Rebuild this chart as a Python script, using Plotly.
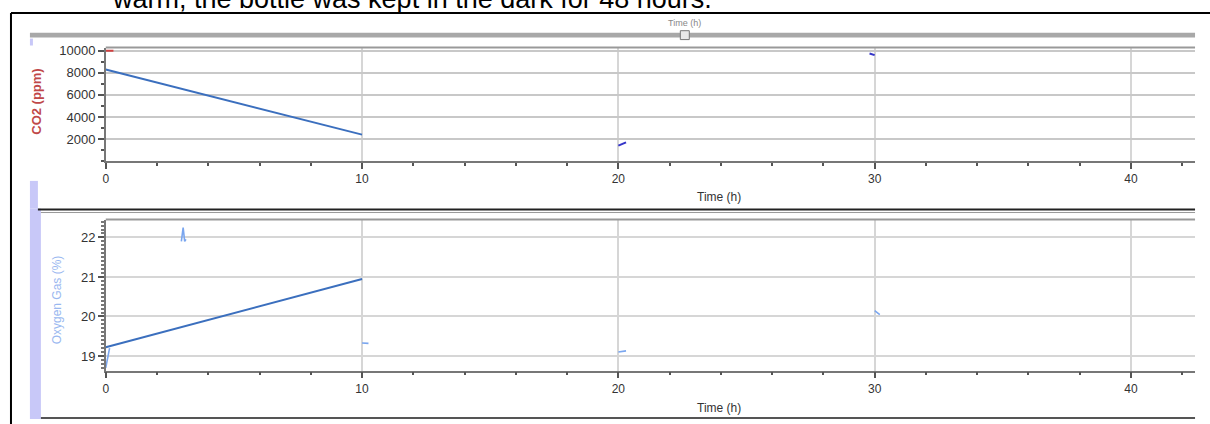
import plotly.graph_objects as go

W, H = 1210, 424

# ---------------- data ----------------
co2_time = [0, 10]
co2_ppm = [8300, 2400]
co2_frag1_time = [20.0, 20.3]
co2_frag1_ppm = [1400, 1700]
co2_frag2_time = [29.8, 30.0]
co2_frag2_ppm = [9750, 9600]
co2_red_time = [0, 0.3]
co2_red_ppm = [10000, 10000]

o2_time = [0, 10]
o2_pct = [19.22, 20.95]
o2_frag0_time = [0.0, 0.15]
o2_frag0_pct = [18.7, 19.2]
o2_frag1_time = [2.95, 3.02, 3.08, 3.13]
o2_frag1_pct = [21.9, 22.25, 21.9, 21.95]
o2_frag2_time = [10.0, 10.25]
o2_frag2_pct = [19.33, 19.32]
o2_frag3_time = [20.0, 20.3]
o2_frag3_pct = [19.1, 19.13]
o2_frag4_time = [30.0, 30.2]
o2_frag4_pct = [20.15, 20.05]

x_ticks = [0, 10, 20, 30, 40]
co2_ticks = [2000, 4000, 6000, 8000, 10000]
o2_ticks = [19, 20, 21, 22]

# ---------------- helpers (pixel -> paper) ----------------
def px(x):
    return x / W

def py(y):
    return 1 - y / H

FONT = "Liberation Sans, Arial, sans-serif"
MAIN = "#3b6fbe"

fig = go.Figure()

fig.add_trace(go.Scatter(x=co2_time, y=co2_ppm, mode="lines",
                         line=dict(color=MAIN, width=2), xaxis="x", yaxis="y"))
fig.add_trace(go.Scatter(x=co2_frag1_time, y=co2_frag1_ppm, mode="lines",
                         line=dict(color="#3535c8", width=2), xaxis="x", yaxis="y"))
fig.add_trace(go.Scatter(x=co2_frag2_time, y=co2_frag2_ppm, mode="lines",
                         line=dict(color="#3535c8", width=2), xaxis="x", yaxis="y"))
fig.add_trace(go.Scatter(x=co2_red_time, y=co2_red_ppm, mode="lines",
                         line=dict(color="#d04040", width=2), xaxis="x", yaxis="y"))

fig.add_trace(go.Scatter(x=o2_time, y=o2_pct, mode="lines",
                         line=dict(color=MAIN, width=2), xaxis="x2", yaxis="y2"))
for tx, ty in [(o2_frag0_time, o2_frag0_pct), (o2_frag1_time, o2_frag1_pct),
               (o2_frag2_time, o2_frag2_pct), (o2_frag3_time, o2_frag3_pct),
               (o2_frag4_time, o2_frag4_pct)]:
    fig.add_trace(go.Scatter(x=tx, y=ty, mode="lines",
                             line=dict(color="#7aa6ef", width=1.6),
                             xaxis="x2", yaxis="y2"))

xdom = [px(103), px(1195)]

common_x = dict(
    range=[0, 42.5], tickvals=x_ticks, ticks="outside", ticklen=6,
    tickwidth=1.5, tickcolor="#555", showline=True, linecolor="#777",
    linewidth=1.5, showgrid=True, gridcolor="#d6d6d6", gridwidth=1.5,
    zeroline=False, tickfont=dict(family=FONT, size=12, color="#333"),
    minor=dict(dtick=2, ticks="outside", ticklen=3, tickcolor="#555",
               showgrid=False),
    fixedrange=True,
)

fig.update_layout(
    width=W, height=H,
    margin=dict(l=0, r=0, t=0, b=0),
    paper_bgcolor="white", plot_bgcolor="white",
    showlegend=False,
    xaxis=dict(domain=xdom, anchor="y", **common_x),
    yaxis=dict(domain=[py(158), py(44)], range=[0, 10200], anchor="x",
               tickvals=co2_ticks, tickformat="d", ticks="outside", ticklen=6,
               tickwidth=1.5, tickcolor="#555", showline=True,
               linecolor="#777", linewidth=1.5,
               showgrid=True, gridcolor="#c8c8c8", gridwidth=1.5,
               zeroline=False, fixedrange=True,
               tickfont=dict(family=FONT, size=13, color="#333"),
               minor=dict(dtick=1000, ticks="outside", ticklen=3,
                          tickcolor="#555", showgrid=False)),
    xaxis2=dict(domain=xdom, anchor="y2", **common_x),
    yaxis2=dict(domain=[py(370), py(218)], range=[18.63, 22.43], anchor="x2",
                tickvals=o2_ticks, ticks="outside", ticklen=6, tickwidth=1.5,
                tickcolor="#555", showline=True, linecolor="#777", linewidth=1.5,
                showgrid=True, gridcolor="#d6d6d6", gridwidth=1.5,
                zeroline=False, fixedrange=True,
                tickfont=dict(family=FONT, size=13, color="#333"),
                minor=dict(dtick=0.1, ticks="outside", ticklen=3,
                           tickcolor="#777", showgrid=False)),
)

shapes = []
# outer frame
shapes.append(dict(type="line", xref="paper", yref="paper",
                   x0=px(8), x1=1, y0=py(8), y1=py(8),
                   line=dict(color="black", width=2)))
shapes.append(dict(type="line", xref="paper", yref="paper",
                   x0=px(8), x1=px(8), y0=py(8), y1=0,
                   line=dict(color="black", width=2)))
# scroll bar at top
shapes.append(dict(type="rect", xref="paper", yref="paper",
                   x0=px(27), x1=px(1195), y0=py(33), y1=py(28),
                   fillcolor="#a8a8a8", line=dict(width=0)))
shapes.append(dict(type="rect", xref="paper", yref="paper",
                   x0=px(679), x1=px(688), y0=py(35), y1=py(26),
                   fillcolor="#e8e8e8", line=dict(color="#777", width=1)))
# plot top borders
shapes.append(dict(type="line", xref="paper", yref="paper",
                   x0=px(103), x1=px(1195), y0=py(43), y1=py(43),
                   line=dict(color="#999", width=2)))
shapes.append(dict(type="line", xref="paper", yref="paper",
                   x0=px(103), x1=px(1195), y0=py(217), y1=py(217),
                   line=dict(color="#999", width=2)))
# lavender side bars
shapes.append(dict(type="rect", xref="paper", yref="paper",
                   x0=px(27), x1=px(30), y0=py(41), y1=py(34),
                   fillcolor="#c8c8f8", line=dict(width=0)))
shapes.append(dict(type="rect", xref="paper", yref="paper",
                   x0=px(27), x1=px(35), y0=py(206), y1=py(178),
                   fillcolor="#c8c8f8", line=dict(width=0)))
shapes.append(dict(type="rect", xref="paper", yref="paper",
                   x0=px(27), x1=px(38), y0=py(419), y1=py(206),
                   fillcolor="#c8c8f8", line=dict(width=0)))
# panel separators
shapes.append(dict(type="line", xref="paper", yref="paper",
                   x0=px(35), x1=px(1195), y0=py(207), y1=py(207),
                   line=dict(color="#222", width=2)))
shapes.append(dict(type="line", xref="paper", yref="paper",
                   x0=px(38), x1=px(1195), y0=py(210), y1=py(210),
                   line=dict(color="#999", width=1)))
shapes.append(dict(type="line", xref="paper", yref="paper",
                   x0=px(38), x1=px(1195), y0=py(418), y1=py(418),
                   line=dict(color="#555", width=2)))
fig.update_layout(shapes=shapes)

annotations = [
    dict(text="warm, the bottle was kept in the dark for 48 hours.",
         xref="paper", yref="paper", x=px(410), y=py(11),
         xanchor="center", yanchor="bottom", showarrow=False,
         font=dict(family=FONT, size=27, color="black")),
    dict(text="Time (h)", xref="paper", yref="paper", x=px(683), y=py(18),
         xanchor="center", yanchor="middle", showarrow=False,
         font=dict(family=FONT, size=9, color="#888")),
    dict(text="<b>CO2 (ppm)</b>", xref="paper", yref="paper", x=px(34),
         y=py(98), xanchor="center", yanchor="middle", textangle=-90,
         showarrow=False, font=dict(family=FONT, size=13, color="#c04848")),
    dict(text="Oxygen Gas (%)", xref="paper", yref="paper", x=px(55),
         y=py(298), xanchor="center", yanchor="middle", textangle=-90,
         showarrow=False, font=dict(family=FONT, size=12, color="#9ab8f0")),
    dict(text="Time (h)", xref="paper", yref="paper", x=px(718), y=py(194),
         xanchor="center", yanchor="middle", showarrow=False,
         font=dict(family=FONT, size=12, color="#333")),
    dict(text="Time (h)", xref="paper", yref="paper", x=px(718), y=py(408),
         xanchor="center", yanchor="middle", showarrow=False,
         font=dict(family=FONT, size=12, color="#333")),
]
fig.update_layout(annotations=annotations)

fig.write_html("out.html",
               config={"displayModeBar": False},
               post_script="document.body.style.margin='0';"
                           "document.body.style.overflow='hidden';")
